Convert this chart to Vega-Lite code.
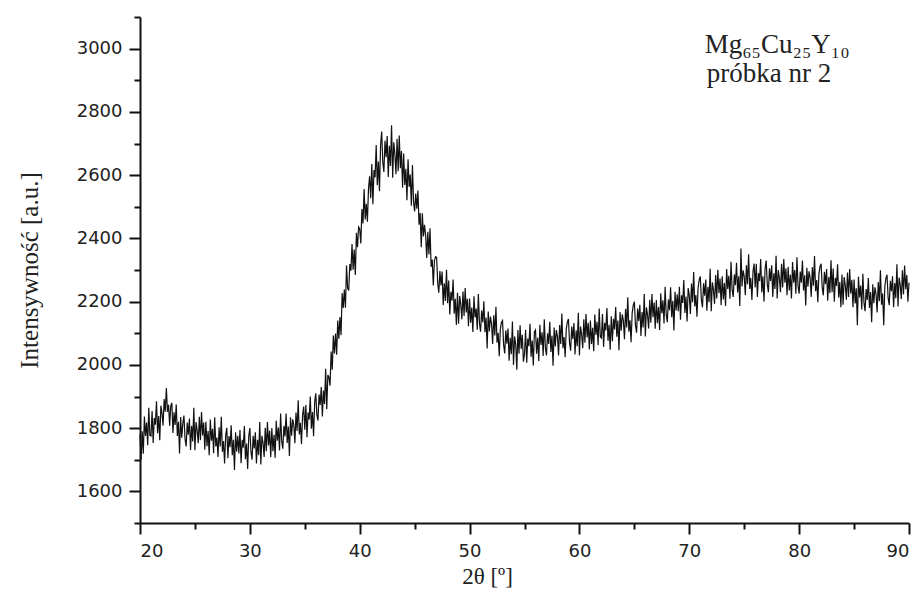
{
  "$schema": "https://vega.github.io/schema/vega-lite/v6.json",
  "width": 769,
  "height": 506,
  "autosize": {"type": "none"},
  "padding": {"left": 140, "top": 17, "right": 15, "bottom": 69},
  "background": "white",
  "config": {
    "view": {"stroke": null},
    "axis": {
      "grid": false,
      "domainColor": "#111",
      "domainWidth": 2,
      "tickColor": "#111",
      "tickWidth": 2,
      "labelFont": "DejaVu Sans",
      "labelFontSize": 18,
      "labelColor": "#222",
      "titleFont": "Liberation Serif",
      "titleFontWeight": "normal",
      "titleColor": "#222"
    }
  },
  "data": {"values": [
{"x":20,"y":1780},{"x":20.1,"y":1700},{"x":20.2,"y":1790},{"x":20.3,"y":1719},{"x":20.4,"y":1837},{"x":20.5,"y":1775},{"x":20.6,"y":1818},{"x":20.7,"y":1746},{"x":20.8,"y":1864},{"x":20.9,"y":1777},
{"x":21,"y":1775},{"x":21.1,"y":1854},{"x":21.2,"y":1753},{"x":21.3,"y":1832},{"x":21.4,"y":1811},{"x":21.5,"y":1885},{"x":21.6,"y":1784},{"x":21.7,"y":1838},{"x":21.8,"y":1762},{"x":21.9,"y":1871},
{"x":22,"y":1848},{"x":22.1,"y":1808},{"x":22.2,"y":1892},{"x":22.3,"y":1852},{"x":22.4,"y":1927},{"x":22.5,"y":1851},{"x":22.6,"y":1874},{"x":22.7,"y":1808},{"x":22.8,"y":1870},{"x":22.9,"y":1880},
{"x":23,"y":1785},{"x":23.1,"y":1850},{"x":23.2,"y":1810},{"x":23.3,"y":1875},{"x":23.4,"y":1775},{"x":23.5,"y":1820},{"x":23.6,"y":1720},{"x":23.7,"y":1835},{"x":23.8,"y":1770},{"x":23.9,"y":1815},
{"x":24,"y":1840},{"x":24.1,"y":1766},{"x":24.2,"y":1742},{"x":24.3,"y":1818},{"x":24.4,"y":1779},{"x":24.5,"y":1830},{"x":24.6,"y":1731},{"x":24.7,"y":1807},{"x":24.8,"y":1758},{"x":24.9,"y":1864},
{"x":25,"y":1730},{"x":25.1,"y":1819},{"x":25.2,"y":1793},{"x":25.3,"y":1752},{"x":25.4,"y":1836},{"x":25.5,"y":1762},{"x":25.6,"y":1851},{"x":25.7,"y":1777},{"x":25.8,"y":1818},{"x":25.9,"y":1732},
{"x":26,"y":1820},{"x":26.1,"y":1743},{"x":26.2,"y":1791},{"x":26.3,"y":1714},{"x":26.4,"y":1827},{"x":26.5,"y":1760},{"x":26.6,"y":1798},{"x":26.7,"y":1721},{"x":26.8,"y":1834},{"x":26.9,"y":1742},
{"x":27,"y":1770},{"x":27.1,"y":1709},{"x":27.2,"y":1803},{"x":27.3,"y":1742},{"x":27.4,"y":1836},{"x":27.5,"y":1725},{"x":27.6,"y":1759},{"x":27.7,"y":1688},{"x":27.8,"y":1777},{"x":27.9,"y":1801},
{"x":28,"y":1705},{"x":28.1,"y":1775},{"x":28.2,"y":1740},{"x":28.3,"y":1809},{"x":28.4,"y":1714},{"x":28.5,"y":1763},{"x":28.6,"y":1668},{"x":28.7,"y":1787},{"x":28.8,"y":1726},{"x":28.9,"y":1776},
{"x":29,"y":1720},{"x":29.1,"y":1794},{"x":29.2,"y":1689},{"x":29.3,"y":1763},{"x":29.4,"y":1738},{"x":29.5,"y":1807},{"x":29.6,"y":1702},{"x":29.7,"y":1751},{"x":29.8,"y":1671},{"x":29.9,"y":1775},
{"x":30,"y":1800},{"x":30.1,"y":1725},{"x":30.2,"y":1700},{"x":30.3,"y":1776},{"x":30.4,"y":1736},{"x":30.5,"y":1787},{"x":30.6,"y":1688},{"x":30.7,"y":1763},{"x":30.8,"y":1714},{"x":30.9,"y":1819},
{"x":31,"y":1685},{"x":31.1,"y":1776},{"x":31.2,"y":1753},{"x":31.3,"y":1709},{"x":31.4,"y":1801},{"x":31.5,"y":1727},{"x":31.6,"y":1819},{"x":31.7,"y":1745},{"x":31.8,"y":1792},{"x":31.9,"y":1708},
{"x":32,"y":1800},{"x":32.1,"y":1727},{"x":32.2,"y":1779},{"x":32.3,"y":1706},{"x":32.4,"y":1823},{"x":32.5,"y":1760},{"x":32.6,"y":1802},{"x":32.7,"y":1729},{"x":32.8,"y":1846},{"x":32.9,"y":1758},
{"x":33,"y":1735},{"x":33.1,"y":1807},{"x":33.2,"y":1774},{"x":33.3,"y":1846},{"x":33.4,"y":1753},{"x":33.5,"y":1805},{"x":33.6,"y":1712},{"x":33.7,"y":1834},{"x":33.8,"y":1776},{"x":33.9,"y":1828},
{"x":34,"y":1810},{"x":34.1,"y":1752},{"x":34.2,"y":1849},{"x":34.3,"y":1791},{"x":34.4,"y":1888},{"x":34.5,"y":1780},{"x":34.6,"y":1817},{"x":34.7,"y":1749},{"x":34.8,"y":1841},{"x":34.9,"y":1868},
{"x":35,"y":1795},{"x":35.1,"y":1873},{"x":35.2,"y":1771},{"x":35.3,"y":1849},{"x":35.4,"y":1827},{"x":35.5,"y":1900},{"x":35.6,"y":1798},{"x":35.7,"y":1851},{"x":35.8,"y":1774},{"x":35.9,"y":1882},
{"x":36,"y":1910},{"x":36.1,"y":1842},{"x":36.2,"y":1824},{"x":36.3,"y":1906},{"x":36.4,"y":1873},{"x":36.5,"y":1930},{"x":36.6,"y":1837},{"x":36.7,"y":1919},{"x":36.8,"y":1876},{"x":36.9,"y":1988},
{"x":37,"y":1860},{"x":37.1,"y":1968},{"x":37.2,"y":1961},{"x":37.3,"y":1934},{"x":37.4,"y":2042},{"x":37.5,"y":1985},{"x":37.6,"y":2093},{"x":37.7,"y":2036},{"x":37.8,"y":2099},{"x":37.9,"y":2032},
{"x":38,"y":2140},{"x":38.1,"y":2083},{"x":38.2,"y":2151},{"x":38.3,"y":2094},{"x":38.4,"y":2227},{"x":38.5,"y":2180},{"x":38.6,"y":2238},{"x":38.7,"y":2181},{"x":38.8,"y":2314},{"x":38.9,"y":2242},
{"x":39,"y":2235},{"x":39.1,"y":2319},{"x":39.2,"y":2298},{"x":39.3,"y":2382},{"x":39.4,"y":2301},{"x":39.5,"y":2365},{"x":39.6,"y":2284},{"x":39.7,"y":2418},{"x":39.8,"y":2372},{"x":39.9,"y":2436},
{"x":40,"y":2430},{"x":40.1,"y":2384},{"x":40.2,"y":2493},{"x":40.3,"y":2447},{"x":40.4,"y":2556},{"x":40.5,"y":2460},{"x":40.6,"y":2509},{"x":40.7,"y":2453},{"x":40.8,"y":2557},{"x":40.9,"y":2596},
{"x":41,"y":2527},{"x":41.1,"y":2635},{"x":41.2,"y":2508},{"x":41.3,"y":2616},{"x":41.4,"y":2593},{"x":41.5,"y":2695},{"x":41.6,"y":2568},{"x":41.7,"y":2643},{"x":41.8,"y":2549},{"x":41.9,"y":2696},
{"x":42,"y":2738},{"x":42.1,"y":2641},{"x":42.2,"y":2610},{"x":42.3,"y":2709},{"x":42.4,"y":2657},{"x":42.5,"y":2724},{"x":42.6,"y":2594},{"x":42.7,"y":2693},{"x":42.8,"y":2629},{"x":42.9,"y":2758},
{"x":43,"y":2592},{"x":43.1,"y":2704},{"x":43.2,"y":2667},{"x":43.3,"y":2603},{"x":43.4,"y":2715},{"x":43.5,"y":2612},{"x":43.6,"y":2725},{"x":43.7,"y":2622},{"x":43.8,"y":2676},{"x":43.9,"y":2560},
{"x":44,"y":2668},{"x":44.1,"y":2569},{"x":44.2,"y":2620},{"x":44.3,"y":2521},{"x":44.4,"y":2650},{"x":44.5,"y":2563},{"x":44.6,"y":2602},{"x":44.7,"y":2503},{"x":44.8,"y":2632},{"x":44.9,"y":2515},
{"x":45,"y":2485},{"x":45.1,"y":2542},{"x":45.2,"y":2494},{"x":45.3,"y":2551},{"x":45.4,"y":2443},{"x":45.5,"y":2480},{"x":45.6,"y":2372},{"x":45.7,"y":2479},{"x":45.8,"y":2406},{"x":45.9,"y":2443},
{"x":46,"y":2410},{"x":46.1,"y":2338},{"x":46.2,"y":2421},{"x":46.3,"y":2349},{"x":46.4,"y":2432},{"x":46.5,"y":2310},{"x":46.6,"y":2333},{"x":46.7,"y":2251},{"x":46.8,"y":2329},{"x":46.9,"y":2342},
{"x":47,"y":2340},{"x":47.1,"y":2259},{"x":47.2,"y":2228},{"x":47.3,"y":2297},{"x":47.4,"y":2251},{"x":47.5,"y":2295},{"x":47.6,"y":2189},{"x":47.7,"y":2258},{"x":47.8,"y":2202},{"x":47.9,"y":2301},
{"x":48,"y":2195},{"x":48.1,"y":2267},{"x":48.2,"y":2159},{"x":48.3,"y":2231},{"x":48.4,"y":2203},{"x":48.5,"y":2270},{"x":48.6,"y":2162},{"x":48.7,"y":2209},{"x":48.8,"y":2126},{"x":48.9,"y":2228},
{"x":49,"y":2130},{"x":49.1,"y":2218},{"x":49.2,"y":2191},{"x":49.3,"y":2144},{"x":49.4,"y":2232},{"x":49.5,"y":2155},{"x":49.6,"y":2243},{"x":49.7,"y":2166},{"x":49.8,"y":2209},{"x":49.9,"y":2122},
{"x":50,"y":2210},{"x":50.1,"y":2133},{"x":50.2,"y":2181},{"x":50.3,"y":2104},{"x":50.4,"y":2217},{"x":50.5,"y":2150},{"x":50.6,"y":2178},{"x":50.7,"y":2111},{"x":50.8,"y":2224},{"x":50.9,"y":2132},
{"x":51,"y":2105},{"x":51.1,"y":2172},{"x":51.2,"y":2134},{"x":51.3,"y":2201},{"x":51.4,"y":2103},{"x":51.5,"y":2150},{"x":51.6,"y":2052},{"x":51.7,"y":2169},{"x":51.8,"y":2106},{"x":51.9,"y":2153},
{"x":52,"y":2130},{"x":52.1,"y":2066},{"x":52.2,"y":2157},{"x":52.3,"y":2093},{"x":52.4,"y":2184},{"x":52.5,"y":2070},{"x":52.6,"y":2101},{"x":52.7,"y":2027},{"x":52.8,"y":2113},{"x":52.9,"y":2134},
{"x":53,"y":2140},{"x":53.1,"y":2063},{"x":53.2,"y":2036},{"x":53.3,"y":2109},{"x":53.4,"y":2067},{"x":53.5,"y":2115},{"x":53.6,"y":2013},{"x":53.7,"y":2086},{"x":53.8,"y":2034},{"x":53.9,"y":2137},
{"x":54,"y":2000},{"x":54.1,"y":2090},{"x":54.2,"y":2065},{"x":54.3,"y":1985},{"x":54.4,"y":2110},{"x":54.5,"y":2035},{"x":54.6,"y":2125},{"x":54.7,"y":2050},{"x":54.8,"y":2095},{"x":54.9,"y":2010},
{"x":55,"y":2035},{"x":55.1,"y":2111},{"x":55.2,"y":2007},{"x":55.3,"y":2083},{"x":55.4,"y":2059},{"x":55.5,"y":2130},{"x":55.6,"y":2026},{"x":55.7,"y":2077},{"x":55.8,"y":1998},{"x":55.9,"y":2104},
{"x":56,"y":2110},{"x":56.1,"y":2035},{"x":56.2,"y":2086},{"x":56.3,"y":2012},{"x":56.4,"y":2127},{"x":56.5,"y":2063},{"x":56.6,"y":2103},{"x":56.7,"y":2028},{"x":56.8,"y":2144},{"x":56.9,"y":2054},
{"x":57,"y":2030},{"x":57.1,"y":2100},{"x":57.2,"y":2066},{"x":57.3,"y":2136},{"x":57.4,"y":2041},{"x":57.5,"y":2092},{"x":57.6,"y":1997},{"x":57.7,"y":2118},{"x":57.8,"y":2058},{"x":57.9,"y":2110},
{"x":58,"y":2090},{"x":58.1,"y":2030},{"x":58.2,"y":2126},{"x":58.3,"y":2066},{"x":58.4,"y":2162},{"x":58.5,"y":2053},{"x":58.6,"y":2088},{"x":58.7,"y":2024},{"x":58.8,"y":2114},{"x":58.9,"y":2135},
{"x":59,"y":2145},{"x":59.1,"y":2070},{"x":59.2,"y":2045},{"x":59.3,"y":2121},{"x":59.4,"y":2082},{"x":59.5,"y":2132},{"x":59.6,"y":2033},{"x":59.7,"y":2109},{"x":59.8,"y":2059},{"x":59.9,"y":2165},
{"x":60,"y":2030},{"x":60.1,"y":2121},{"x":60.2,"y":2097},{"x":60.3,"y":2053},{"x":60.4,"y":2144},{"x":60.5,"y":2070},{"x":60.6,"y":2161},{"x":60.7,"y":2087},{"x":60.8,"y":2133},{"x":60.9,"y":2049},
{"x":61,"y":2140},{"x":61.1,"y":2066},{"x":61.2,"y":2117},{"x":61.3,"y":2043},{"x":61.4,"y":2159},{"x":61.5,"y":2095},{"x":61.6,"y":2136},{"x":61.7,"y":2062},{"x":61.8,"y":2178},{"x":61.9,"y":2089},
{"x":62,"y":2085},{"x":62.1,"y":2161},{"x":62.2,"y":2057},{"x":62.3,"y":2133},{"x":62.4,"y":2109},{"x":62.5,"y":2180},{"x":62.6,"y":2076},{"x":62.7,"y":2127},{"x":62.8,"y":2048},{"x":62.9,"y":2154},
{"x":63,"y":2075},{"x":63.1,"y":2146},{"x":63.2,"y":2112},{"x":63.3,"y":2183},{"x":63.4,"y":2089},{"x":63.5,"y":2140},{"x":63.6,"y":2046},{"x":63.7,"y":2167},{"x":63.8,"y":2108},{"x":63.9,"y":2160},
{"x":64,"y":2140},{"x":64.1,"y":2081},{"x":64.2,"y":2177},{"x":64.3,"y":2118},{"x":64.4,"y":2214},{"x":64.5,"y":2105},{"x":64.6,"y":2141},{"x":64.7,"y":2072},{"x":64.8,"y":2163},{"x":64.9,"y":2189},
{"x":65,"y":2200},{"x":65.1,"y":2126},{"x":65.2,"y":2102},{"x":65.3,"y":2178},{"x":65.4,"y":2139},{"x":65.5,"y":2190},{"x":65.6,"y":2091},{"x":65.7,"y":2167},{"x":65.8,"y":2118},{"x":65.9,"y":2224},
{"x":66,"y":2090},{"x":66.1,"y":2182},{"x":66.2,"y":2158},{"x":66.3,"y":2115},{"x":66.4,"y":2206},{"x":66.5,"y":2133},{"x":66.6,"y":2224},{"x":66.7,"y":2151},{"x":66.8,"y":2197},{"x":66.9,"y":2114},
{"x":67,"y":2205},{"x":67.1,"y":2132},{"x":67.2,"y":2183},{"x":67.3,"y":2110},{"x":67.4,"y":2226},{"x":67.5,"y":2163},{"x":67.6,"y":2204},{"x":67.7,"y":2131},{"x":67.8,"y":2247},{"x":67.9,"y":2159},
{"x":68,"y":2135},{"x":68.1,"y":2207},{"x":68.2,"y":2173},{"x":68.3,"y":2245},{"x":68.4,"y":2151},{"x":68.5,"y":2203},{"x":68.6,"y":2109},{"x":68.7,"y":2231},{"x":68.8,"y":2172},{"x":68.9,"y":2223},
{"x":69,"y":2170},{"x":69.1,"y":2247},{"x":69.2,"y":2143},{"x":69.3,"y":2220},{"x":69.4,"y":2196},{"x":69.5,"y":2268},{"x":69.6,"y":2164},{"x":69.7,"y":2216},{"x":69.8,"y":2137},{"x":69.9,"y":2243},
{"x":70,"y":2220},{"x":70.1,"y":2161},{"x":70.2,"y":2257},{"x":70.3,"y":2198},{"x":70.4,"y":2294},{"x":70.5,"y":2185},{"x":70.6,"y":2221},{"x":70.7,"y":2152},{"x":70.8,"y":2243},{"x":70.9,"y":2269},
{"x":71,"y":2280},{"x":71.1,"y":2206},{"x":71.2,"y":2182},{"x":71.3,"y":2258},{"x":71.4,"y":2219},{"x":71.5,"y":2270},{"x":71.6,"y":2171},{"x":71.7,"y":2247},{"x":71.8,"y":2198},{"x":71.9,"y":2304},
{"x":72,"y":2170},{"x":72.1,"y":2261},{"x":72.2,"y":2237},{"x":72.3,"y":2193},{"x":72.4,"y":2284},{"x":72.5,"y":2210},{"x":72.6,"y":2301},{"x":72.7,"y":2227},{"x":72.8,"y":2273},{"x":72.9,"y":2189},
{"x":73,"y":2280},{"x":73.1,"y":2207},{"x":73.2,"y":2259},{"x":73.3,"y":2186},{"x":73.4,"y":2303},{"x":73.5,"y":2240},{"x":73.6,"y":2282},{"x":73.7,"y":2209},{"x":73.8,"y":2326},{"x":73.9,"y":2238},
{"x":74,"y":2215},{"x":74.1,"y":2286},{"x":74.2,"y":2252},{"x":74.3,"y":2323},{"x":74.4,"y":2229},{"x":74.5,"y":2280},{"x":74.6,"y":2186},{"x":74.7,"y":2368},{"x":74.8,"y":2248},{"x":74.9,"y":2299},
{"x":75,"y":2280},{"x":75.1,"y":2220},{"x":75.2,"y":2315},{"x":75.3,"y":2255},{"x":75.4,"y":2350},{"x":75.5,"y":2240},{"x":75.6,"y":2275},{"x":75.7,"y":2205},{"x":75.8,"y":2295},{"x":75.9,"y":2320},
{"x":76,"y":2245},{"x":76.1,"y":2320},{"x":76.2,"y":2215},{"x":76.3,"y":2290},{"x":76.4,"y":2265},{"x":76.5,"y":2335},{"x":76.6,"y":2230},{"x":76.7,"y":2280},{"x":76.8,"y":2200},{"x":76.9,"y":2305},
{"x":77,"y":2330},{"x":77.1,"y":2255},{"x":77.2,"y":2230},{"x":77.3,"y":2305},{"x":77.4,"y":2265},{"x":77.5,"y":2315},{"x":77.6,"y":2215},{"x":77.7,"y":2290},{"x":77.8,"y":2240},{"x":77.9,"y":2345},
{"x":78,"y":2210},{"x":78.1,"y":2300},{"x":78.2,"y":2275},{"x":78.3,"y":2230},{"x":78.4,"y":2320},{"x":78.5,"y":2245},{"x":78.6,"y":2335},{"x":78.7,"y":2260},{"x":78.8,"y":2305},{"x":78.9,"y":2220},
{"x":79,"y":2310},{"x":79.1,"y":2235},{"x":79.2,"y":2285},{"x":79.3,"y":2210},{"x":79.4,"y":2325},{"x":79.5,"y":2260},{"x":79.6,"y":2300},{"x":79.7,"y":2225},{"x":79.8,"y":2340},{"x":79.9,"y":2250},
{"x":80,"y":2225},{"x":80.1,"y":2295},{"x":80.2,"y":2260},{"x":80.3,"y":2330},{"x":80.4,"y":2235},{"x":80.5,"y":2283},{"x":80.6,"y":2188},{"x":80.7,"y":2307},{"x":80.8,"y":2247},{"x":80.9,"y":2296},
{"x":81,"y":2275},{"x":81.1,"y":2215},{"x":81.2,"y":2309},{"x":81.3,"y":2250},{"x":81.4,"y":2344},{"x":81.5,"y":2233},{"x":81.6,"y":2268},{"x":81.7,"y":2198},{"x":81.8,"y":2287},{"x":81.9,"y":2311},
{"x":82,"y":2320},{"x":82.1,"y":2245},{"x":82.2,"y":2220},{"x":82.3,"y":2294},{"x":82.4,"y":2255},{"x":82.5,"y":2303},{"x":82.6,"y":2203},{"x":82.7,"y":2278},{"x":82.8,"y":2227},{"x":82.9,"y":2331},
{"x":83,"y":2230},{"x":83.1,"y":2305},{"x":83.2,"y":2200},{"x":83.3,"y":2275},{"x":83.4,"y":2250},{"x":83.5,"y":2318},{"x":83.6,"y":2213},{"x":83.7,"y":2262},{"x":83.8,"y":2182},{"x":83.9,"y":2286},
{"x":84,"y":2190},{"x":84.1,"y":2278},{"x":84.2,"y":2251},{"x":84.3,"y":2206},{"x":84.4,"y":2292},{"x":84.5,"y":2215},{"x":84.6,"y":2303},{"x":84.7,"y":2226},{"x":84.8,"y":2269},{"x":84.9,"y":2182},
{"x":85,"y":2270},{"x":85.1,"y":2194},{"x":85.2,"y":2242},{"x":85.3,"y":2125},{"x":85.4,"y":2279},{"x":85.5,"y":2213},{"x":85.6,"y":2251},{"x":85.7,"y":2175},{"x":85.8,"y":2288},{"x":85.9,"y":2197},
{"x":86,"y":2170},{"x":86.1,"y":2240},{"x":86.2,"y":2205},{"x":86.3,"y":2275},{"x":86.4,"y":2180},{"x":86.5,"y":2230},{"x":86.6,"y":2135},{"x":86.7,"y":2255},{"x":86.8,"y":2195},{"x":86.9,"y":2245},
{"x":87,"y":2225},{"x":87.1,"y":2166},{"x":87.2,"y":2262},{"x":87.3,"y":2201},{"x":87.4,"y":2299},{"x":87.5,"y":2190},{"x":87.6,"y":2226},{"x":87.7,"y":2125},{"x":87.8,"y":2248},{"x":87.9,"y":2274},
{"x":88,"y":2285},{"x":88.1,"y":2212},{"x":88.2,"y":2189},{"x":88.3,"y":2266},{"x":88.4,"y":2233},{"x":88.5,"y":2280},{"x":88.6,"y":2182},{"x":88.7,"y":2259},{"x":88.8,"y":2211},{"x":88.9,"y":2318},
{"x":89,"y":2185},{"x":89.1,"y":2276},{"x":89.2,"y":2252},{"x":89.3,"y":2208},{"x":89.4,"y":2299},{"x":89.5,"y":2223},{"x":89.6,"y":2314},{"x":89.7,"y":2239},{"x":89.8,"y":2284},{"x":89.9,"y":2200},
{"x":90,"y":2260}
  ]},
  "layer": [
    {
      "mark": {"type": "line", "stroke": "#111", "strokeWidth": 1.2},
      "encoding": {
        "x": {"field": "x", "type": "quantitative",
          "scale": {"domain": [20, 90], "nice": false, "zero": false},
          "axis": {"orient": "bottom", "values": [20, 30, 40, 50, 60, 70, 80, 90], "format": "d", "tickSize": 11, "labelPadding": 8,
            "title": "2θ [º]", "titleFont": "Liberation Serif", "titleFontWeight": "normal", "titleFontSize": 23, "titlePadding": 5, "titleX": 347}},
        "y": {"field": "y", "type": "quantitative",
          "scale": {"domain": [1500, 3100], "nice": false, "zero": false},
          "axis": {"orient": "left", "values": [1600, 1800, 2000, 2200, 2400, 2600, 2800, 3000], "format": "d", "tickSize": 11, "labelPadding": 7,
            "title": "Intensywność [a.u.]", "titleFont": "Liberation Serif", "titleFontWeight": "normal", "titleFontSize": 25, "titlePadding": 34}}
      }
    },
    {
      "mark": {"type": "line", "strokeOpacity": 0},
      "encoding": {
        "x": {"field": "x", "type": "quantitative",
          "scale": {"domain": [20, 90], "nice": false, "zero": false},
          "axis": {"orient": "bottom", "values": [25, 35, 45, 55, 65, 75, 85], "tickSize": 6, "labels": false, "domain": false, "title": null}},
        "y": {"field": "y", "type": "quantitative",
          "scale": {"domain": [1500, 3100], "nice": false, "zero": false},
          "axis": {"orient": "left", "values": [1500, 1700, 1900, 2100, 2300, 2500, 2700, 2900, 3100], "tickSize": 6, "labels": false, "domain": false, "title": null}}
      }
    },
    {
      "data": {"values": [
        {"x": 71.4, "y": 2987, "label": "Mg₆₅Cu₂₅Y₁₀"},
        {"x": 71.6, "y": 2893, "label": "próbka nr 2"}
      ]},
      "mark": {"type": "text", "align": "left", "baseline": "alphabetic", "font": "Liberation Serif", "fontSize": 27, "color": "#222"},
      "encoding": {
        "x": {"field": "x", "type": "quantitative", "axis": null},
        "y": {"field": "y", "type": "quantitative", "axis": null},
        "text": {"field": "label"}
      }
    }
  ],
  "resolve": {"axis": {"x": "independent", "y": "independent"}}
}
